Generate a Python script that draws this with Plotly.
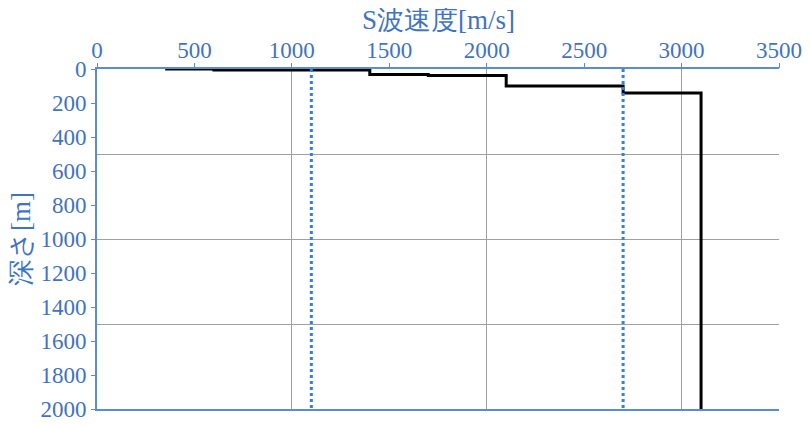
import plotly.graph_objects as go

# Layered S-wave velocity model (step profile)
vs_layers = [350, 600, 1400, 1700, 2100, 2700, 3100]      # m/s
depth_points = [0, 6, 32, 38, 100, 141, 2000]             # m
# Reference velocities (dotted lines)
ref_vs = [1100, 2700]
ref_depth = [0, 2000]

x_title = "S波速度[m/s]"
y_title = "深さ[m]"

BLUE_TXT = "#3f73c5"
BLUE_LINE = "#5b8bd3"
DOT_BLUE = "#3c7dd9"
GRID = "#a0a0a0"
FONT = "Liberation Serif, Times New Roman, serif"

fig = go.Figure()

fig.add_trace(go.Scatter(
    x=vs_layers, y=depth_points, mode="lines", line_shape="hv",
    line=dict(color="black", width=3), showlegend=False, hoverinfo="skip"))

for v in ref_vs:
    fig.add_trace(go.Scatter(
        x=[v, v], y=ref_depth, mode="lines",
        line=dict(color=DOT_BLUE, width=3, dash="dot"),
        showlegend=False, hoverinfo="skip"))

# dummy trace to instantiate overlay axes (labels)
fig.add_trace(go.Scatter(x=[None], y=[None], xaxis="x2", yaxis="y2",
                         showlegend=False, hoverinfo="skip"))

fig.update_layout(
    width=802, height=418,
    margin=dict(l=89, r=31, t=61, b=17),
    paper_bgcolor="white", plot_bgcolor="white",
    font=dict(family=FONT, color=BLUE_TXT, size=23),
    xaxis=dict(range=[0, 3500], side="top", dtick=1000, showgrid=True,
               gridcolor=GRID, gridwidth=1, showticklabels=False, ticks="",
               showline=True, mirror=True, linecolor=BLUE_LINE, linewidth=1.5,
               zeroline=False, automargin=False),
    yaxis=dict(range=[2000, 0], dtick=500, showgrid=True, gridcolor=GRID,
               gridwidth=1, showticklabels=False, ticks="", showline=True,
               linecolor=BLUE_LINE, linewidth=1.5, zeroline=False,
               automargin=False),
    xaxis2=dict(overlaying="x", side="top", anchor="y", range=[0, 3500],
                dtick=500, ticks="outside", ticklen=5, tickcolor=BLUE_LINE,
                showgrid=False, zeroline=False, showline=False,
                automargin=False, ticklabelstandoff=-4,
                tickfont=dict(family=FONT, size=23, color=BLUE_TXT)),
    yaxis2=dict(overlaying="y", side="left", anchor="x", range=[2000, 0],
                dtick=200, ticks="outside", ticklen=5, tickcolor=BLUE_LINE,
                showgrid=False, zeroline=False, showline=False,
                automargin=False,
                tickfont=dict(family=FONT, size=23, color=BLUE_TXT)),
    annotations=[
        dict(text=x_title, xref="paper", yref="paper", x=0.5, y=1,
             xanchor="center", yanchor="middle", yshift=49, showarrow=False,
             font=dict(family=FONT, size=27, color=BLUE_TXT)),
        dict(text=y_title, xref="paper", yref="paper", x=0, y=0.5,
             xanchor="center", yanchor="middle", xshift=-76, textangle=-90,
             showarrow=False,
             font=dict(family=FONT, size=27, color=BLUE_TXT)),
    ],
)

fig.write_html("out.html")
